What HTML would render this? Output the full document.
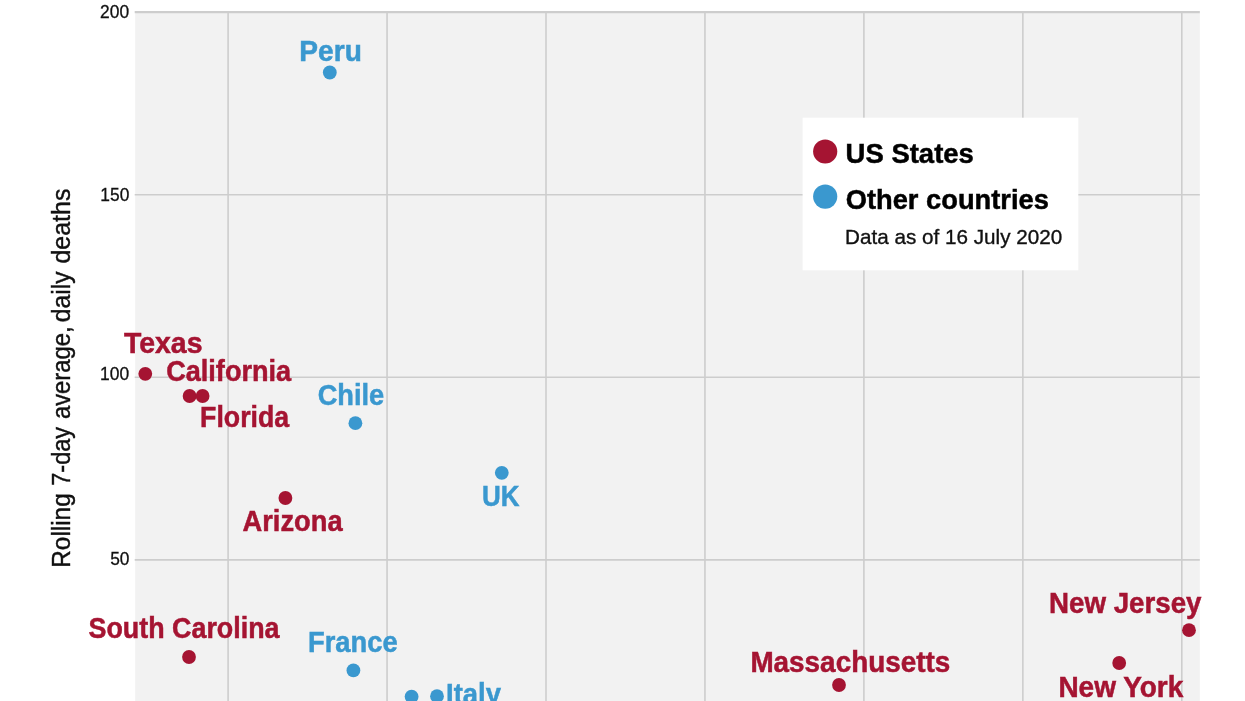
<!DOCTYPE html>
<html lang="en"><head><meta charset="utf-8"><title>Rolling 7-day average, daily deaths</title>
<style>html,body{margin:0;padding:0;background:#fff;overflow:hidden}svg{display:block}text{font-family:"Liberation Sans",sans-serif}</style></head><body>
<svg width="1245" height="701" viewBox="0 0 1245 701">
<rect x="0" y="0" width="1245" height="701" fill="#fff"/>
<rect x="135.2" y="11.2" width="1064.6" height="694.8" fill="#f2f2f2"/>
<g stroke="#cdcdcd" stroke-width="1.6" fill="none">
<line x1="228.10" y1="11.2" x2="228.10" y2="706"/>
<line x1="387.05" y1="11.2" x2="387.05" y2="706"/>
<line x1="546.00" y1="11.2" x2="546.00" y2="706"/>
<line x1="704.95" y1="11.2" x2="704.95" y2="706"/>
<line x1="863.90" y1="11.2" x2="863.90" y2="706"/>
<line x1="1022.85" y1="11.2" x2="1022.85" y2="706"/>
<line x1="1181.80" y1="11.2" x2="1181.80" y2="706"/>
<line x1="134.7" y1="12.1" x2="1199.8" y2="12.1" stroke-width="2.2"/>
<line x1="134.7" y1="194.8" x2="1199.8" y2="194.8"/>
<line x1="134.7" y1="377.3" x2="1199.8" y2="377.3"/>
<line x1="134.7" y1="559.9" x2="1199.8" y2="559.9"/>
</g>
<rect x="802.6" y="117.7" width="275.7" height="152.6" fill="#fff"/>
<circle cx="825.2" cy="151.5" r="12.1" fill="#a51432"/>
<circle cx="825.2" cy="196.6" r="12.1" fill="#3a98cf"/>
<circle cx="329.8" cy="72.5" r="6.9" fill="#3a98cf"/>
<circle cx="145.3" cy="373.8" r="6.9" fill="#a51432"/>
<circle cx="189.6" cy="396" r="6.9" fill="#a51432"/>
<circle cx="202.6" cy="396" r="6.9" fill="#a51432"/>
<circle cx="355.4" cy="423.2" r="6.9" fill="#3a98cf"/>
<circle cx="285.4" cy="498" r="6.9" fill="#a51432"/>
<circle cx="501.8" cy="472.8" r="6.9" fill="#3a98cf"/>
<circle cx="189" cy="657" r="6.9" fill="#a51432"/>
<circle cx="353.4" cy="670.4" r="6.9" fill="#3a98cf"/>
<circle cx="411.6" cy="696.6" r="6.9" fill="#3a98cf"/>
<circle cx="437" cy="696.2" r="6.9" fill="#3a98cf"/>
<circle cx="839" cy="685" r="6.9" fill="#a51432"/>
<circle cx="1189" cy="630.2" r="6.9" fill="#a51432"/>
<circle cx="1119.2" cy="663" r="6.9" fill="#a51432"/>
<g transform="translate(70.4,565.9) rotate(-90)">
<text y="0" font-size="25.8" fill="#111" stroke="#111" stroke-width="0.4" xml:space="preserve"><tspan x="-1.80" textLength="74.36" lengthAdjust="spacingAndGlyphs">Rolling</tspan> <tspan x="80.19" textLength="58.85" lengthAdjust="spacingAndGlyphs">7-day</tspan> <tspan x="146.79" textLength="92.75" lengthAdjust="spacingAndGlyphs">average,</tspan> <tspan x="243.77" textLength="50.68" lengthAdjust="spacingAndGlyphs">daily</tspan> <tspan x="302.35" textLength="74.95" lengthAdjust="spacingAndGlyphs">deaths</tspan></text>
</g>
<text x="299.37" y="60.85" font-size="28.6" font-weight="bold" fill="#3a98cf" stroke="#3a98cf" stroke-width="0.5" textLength="62.43" lengthAdjust="spacingAndGlyphs">Peru</text>
<text x="123.93" y="352.65" font-size="28.6" font-weight="bold" fill="#a51432" stroke="#a51432" stroke-width="0.5" textLength="78.59" lengthAdjust="spacingAndGlyphs">Texas</text>
<text x="166.14" y="381.25" font-size="28.6" font-weight="bold" fill="#a51432" stroke="#a51432" stroke-width="0.5" textLength="125.04" lengthAdjust="spacingAndGlyphs">California</text>
<text x="200.06" y="426.85" font-size="28.6" font-weight="bold" fill="#a51432" stroke="#a51432" stroke-width="0.5" textLength="89.12" lengthAdjust="spacingAndGlyphs">Florida</text>
<text x="317.73" y="405.25" font-size="28.6" font-weight="bold" fill="#3a98cf" stroke="#3a98cf" stroke-width="0.5" textLength="66.55" lengthAdjust="spacingAndGlyphs">Chile</text>
<text x="242.57" y="530.85" font-size="28.6" font-weight="bold" fill="#a51432" stroke="#a51432" stroke-width="0.5" textLength="100.01" lengthAdjust="spacingAndGlyphs">Arizona</text>
<text x="482.09" y="505.85" font-size="28.6" font-weight="bold" fill="#3a98cf" stroke="#3a98cf" stroke-width="0.5" textLength="37.50" lengthAdjust="spacingAndGlyphs">UK</text>
<text x="88.48" y="637.85" font-size="28.6" font-weight="bold" fill="#a51432" stroke="#a51432" stroke-width="0.5" textLength="191.10" lengthAdjust="spacingAndGlyphs">South Carolina</text>
<text x="308.02" y="652.25" font-size="28.6" font-weight="bold" fill="#3a98cf" stroke="#3a98cf" stroke-width="0.5" textLength="89.66" lengthAdjust="spacingAndGlyphs">France</text>
<text x="446.02" y="703.75" font-size="28.6" font-weight="bold" fill="#3a98cf" stroke="#3a98cf" stroke-width="0.5" textLength="54.88" lengthAdjust="spacingAndGlyphs">Italy</text>
<text x="750.38" y="671.65" font-size="28.6" font-weight="bold" fill="#a51432" stroke="#a51432" stroke-width="0.5" textLength="199.91" lengthAdjust="spacingAndGlyphs">Massachusetts</text>
<text x="1049.00" y="612.85" font-size="28.6" font-weight="bold" fill="#a51432" stroke="#a51432" stroke-width="0.5" textLength="152.50" lengthAdjust="spacingAndGlyphs">New Jersey</text>
<text x="1058.39" y="696.85" font-size="28.6" font-weight="bold" fill="#a51432" stroke="#a51432" stroke-width="0.5" textLength="124.94" lengthAdjust="spacingAndGlyphs">New York</text>
<text x="845.60" y="163.30" font-size="28.4" font-weight="bold" fill="#000" stroke="#000" stroke-width="0.5" textLength="128.28" lengthAdjust="spacingAndGlyphs">US States</text>
<text x="845.73" y="208.90" font-size="28.4" font-weight="bold" fill="#000" stroke="#000" stroke-width="0.5" textLength="203.14" lengthAdjust="spacingAndGlyphs">Other countries</text>
<text x="845.08" y="243.60" font-size="20.3" font-weight="normal" fill="#111" stroke="#111" stroke-width="0.35" textLength="217.15" lengthAdjust="spacingAndGlyphs">Data as of 16 July 2020</text>
<text x="100.07" y="17.97" font-size="18.8" font-weight="normal" fill="#111" stroke="#111" stroke-width="0.3" textLength="29.06" lengthAdjust="spacingAndGlyphs">200</text>
<text x="100.33" y="201.22" font-size="18.8" font-weight="normal" fill="#111" stroke="#111" stroke-width="0.3" textLength="29.00" lengthAdjust="spacingAndGlyphs">150</text>
<text x="100.12" y="379.96" font-size="18.8" font-weight="normal" fill="#111" stroke="#111" stroke-width="0.3" textLength="29.11" lengthAdjust="spacingAndGlyphs">100</text>
<text x="110.16" y="565.30" font-size="18.8" font-weight="normal" fill="#111" stroke="#111" stroke-width="0.3" textLength="19.27" lengthAdjust="spacingAndGlyphs">50</text>
</svg></body></html>
